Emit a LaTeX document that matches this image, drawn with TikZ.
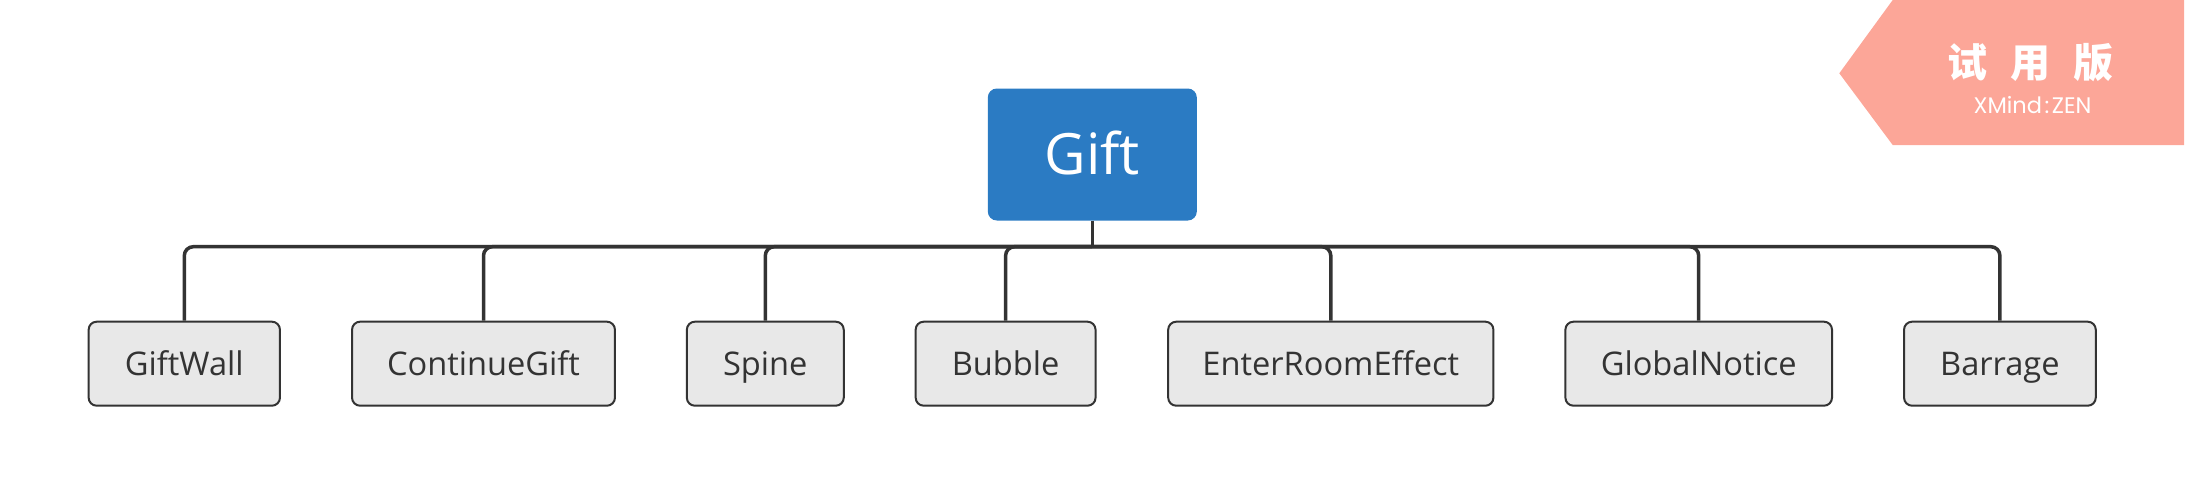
\documentclass[tikz,border=0pt]{standalone}
\usepackage{fontspec}
\setmainfont{Open Sans}
\newfontfamily\cjk{Noto Sans CJK SC}
\newfontfamily\wmfont{Poppins}
\definecolor{rootblue}{RGB}{43,123,195}
\definecolor{childfill}{RGB}{232,232,232}
\definecolor{darkline}{RGB}{51,51,51}
\definecolor{wmark}{RGB}{252,166,152}
\begin{document}
\begin{tikzpicture}[x=1pt,y=-1pt,
  rootbox/.style={draw=none,fill=rootblue,rounded corners=9pt,minimum width=209pt,minimum height=132pt,inner sep=0pt,text height=40.5pt,text depth=0pt,text=white,font=\fontsize{57}{60}\selectfont},
  childbox/.style={draw=darkline,line width=2pt,fill=childfill,rounded corners=8pt,minimum height=84pt,inner sep=0pt,text height=23.3pt,text depth=0pt,text=darkline,font=\fontsize{32.6}{36}\selectfont},
  conn/.style={draw=darkline,line width=3.5pt,rounded corners=9pt}]
\useasboundingbox (0,0) rectangle (2185,495);
% watermark
\fill[wmark] (1839.3,73.3) -- (1892.7,0) -- (2184,0) -- (2184,145) -- (1892.7,145) -- cycle;
\node[text=white,font=\cjk\bfseries\fontsize{40}{44}\selectfont,inner sep=0pt] (wm1) at (2030,62.5) {试\hspace{23pt}用\hspace{23pt}版};
\node[text=white,font=\wmfont\fontsize{22.5}{24}\selectfont,inner sep=0pt,text height=15.5pt,text depth=0pt] (wm2) at (2032.5,105.8) {XMind\kern2.5pt:\kern2.5pt ZEN};
% nodes
\node[rootbox] (root) at (1092.3,154.5) {Gift};
\coordinate (jn) at (1092.3,246.7);
\node[childbox,minimum width=191.3pt] (c1) at (184.3,363.7) {GiftWall};
\node[childbox,minimum width=262.9pt] (c2) at (483.5,363.7) {ContinueGift};
\node[childbox,minimum width=156.9pt] (c3) at (765.3,363.7) {Spine};
\node[childbox,minimum width=179.9pt] (c4) at (1005.6,363.7) {Bubble};
\node[childbox,minimum width=325.2pt] (c5) at (1330.8,363.7) {EnterRoomEffect};
\node[childbox,minimum width=266.6pt] (c6) at (1698.7,363.7) {GlobalNotice};
\node[childbox,minimum width=191.7pt] (c7) at (1999.9,363.7) {Barrage};
% connectors
\draw[conn,rounded corners=0pt] (root.south) -- (jn);
\foreach \c in {c1,c2,c3,c4,c5,c6,c7}{
  \draw[conn] (jn) -| (\c.north);
}
\end{tikzpicture}
\end{document}
